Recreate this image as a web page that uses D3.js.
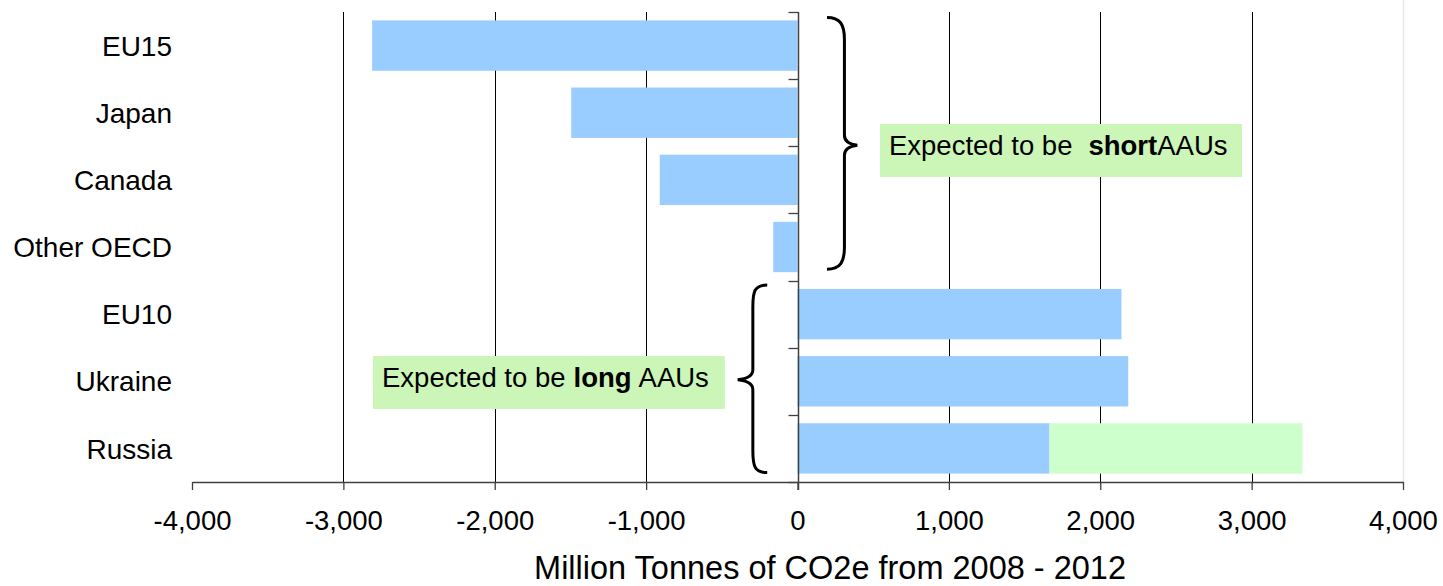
<!DOCTYPE html>
<html>
<head>
<meta charset="utf-8">
<script src="https://cdn.jsdelivr.net/npm/d3@7"></script>
<style>
  html, body { margin: 0; padding: 0; background: #fff; }
  svg { display: block; font-family: "Liberation Sans", Arial, sans-serif; }
</style>
</head>
<body>
<svg id="chart" width="1443" height="586"></svg>
<script>
// ---- data ----
const categories = ["EU15", "Japan", "Canada", "Other OECD", "EU10", "Ukraine", "Russia"];
const baseValues = [-2810, -1495, -910, -160, 2140, 2185, 1665];
const extraValues = [0, 0, 0, 0, 0, 0, 1670];
const tickValues = [-4000, -3000, -2000, -1000, 0, 1000, 2000, 3000, 4000];
const xDomain = [-4000, 4000];
const axisTitle = "Million Tonnes of CO2e from 2008 - 2012";
const shortLabel = ["Expected to be", "short", "AAUs"];
const longLabel = ["Expected to be", "long", "AAUs"];

// ---- layout ----
const svg = d3.select("#chart");
const plot = { left: 192, right: 1403, top: 12, bottom: 482 };
const blue = "#99CCFF", green = "#CCFFCC", boxGreen = "#CCF5B8";

const x = d3.scaleLinear().domain(xDomain).range([plot.left, plot.right]);
const y = d3.scaleBand().domain(categories).range([plot.top, plot.bottom])
  .paddingInner(0.25).paddingOuter(0.125);
const step = y.step();
const fmtBase = d3.format(",");
const fmt = v => fmtBase(v).replace("\u2212", "-");

// faint right border
svg.append("line")
  .attr("x1", plot.right + 0.5).attr("x2", plot.right + 0.5)
  .attr("y1", plot.top - 12).attr("y2", plot.bottom)
  .attr("stroke", "#e6e6e6").attr("stroke-width", 1.5);

// gridlines
svg.append("g").selectAll("line")
  .data(tickValues.filter(v => v !== 0 && v !== xDomain[0] && v !== xDomain[1]))
  .join("line")
  .attr("x1", d => Math.round(x(d)) + 0.5).attr("x2", d => Math.round(x(d)) + 0.5)
  .attr("y1", plot.top).attr("y2", plot.bottom)
  .attr("stroke", "#000").attr("stroke-width", 1);

// bars
const rows = categories.map((c, i) => ({ c, base: baseValues[i], extra: extraValues[i] }));
svg.append("g").selectAll("rect")
  .data(rows).join("rect")
  .attr("x", d => x(Math.min(0, d.base)))
  .attr("width", d => Math.abs(x(d.base) - x(0)))
  .attr("y", d => y(d.c))
  .attr("height", y.bandwidth())
  .attr("fill", blue);
svg.append("g").selectAll("rect")
  .data(rows.filter(d => d.extra > 0)).join("rect")
  .attr("x", d => x(d.base))
  .attr("width", d => x(d.base + d.extra) - x(d.base))
  .attr("y", d => y(d.c))
  .attr("height", y.bandwidth())
  .attr("fill", green);

// x axis
const xAxis = svg.append("g").attr("transform", `translate(0,${plot.bottom})`)
  .call(d3.axisBottom(x).tickValues(tickValues).tickFormat(fmt).tickSize(8).tickSizeOuter(0));
xAxis.select(".domain").attr("stroke", "#404040").attr("stroke-width", 1.3);
xAxis.selectAll(".tick line").attr("stroke", "#404040").attr("stroke-width", 1.3);
xAxis.selectAll(".tick text")
  .attr("font-size", 27.5).attr("fill", "#000").attr("y", 28)
  .attr("dy", "0.71em").attr("font-family", "'Liberation Sans', Arial, sans-serif");

// y axis at zero
const x0 = Math.round(x(0)) + 0.5;
svg.append("line")
  .attr("x1", x0).attr("x2", x0)
  .attr("y1", plot.top).attr("y2", plot.bottom + 8)
  .attr("stroke", "#404040").attr("stroke-width", 1.5);
const bounds = d3.range(categories.length + 1).map(i => plot.top + i * step);
svg.append("g").selectAll("line")
  .data(bounds).join("line")
  .attr("x1", x0 - 10).attr("x2", x0)
  .attr("y1", d => Math.round(d) + 0.5).attr("y2", d => Math.round(d) + 0.5)
  .attr("stroke", "#404040").attr("stroke-width", 1.3);

// category labels
svg.append("g").selectAll("text")
  .data(categories).join("text")
  .attr("x", plot.left - 20)
  .attr("y", d => y(d) + y.bandwidth() / 2)
  .attr("dy", "0.36em")
  .attr("text-anchor", "end")
  .attr("font-size", 28)
  .attr("fill", "#000")
  .text(d => d);

// axis title
svg.append("text")
  .attr("x", x(215)).attr("y", 579)
  .attr("text-anchor", "middle")
  .attr("font-size", 32.5)
  .attr("fill", "#000")
  .text(axisTitle);

// braces
function brace(xHook, xSpine, xTip, yTop, yBot, yTip) {
  const s = Math.sign(xTip - xSpine);
  return `M${xHook},${yTop}
    C${xHook + s * 13},${yTop} ${xSpine},${yTop + 7} ${xSpine},${yTop + 22}
    L${xSpine},${yTip - 10}
    C${xSpine},${yTip - 4} ${xSpine + s * 5},${yTip - 1} ${xTip},${yTip}
    C${xSpine + s * 5},${yTip + 1} ${xSpine},${yTip + 4} ${xSpine},${yTip + 10}
    L${xSpine},${yBot - 22}
    C${xSpine},${yBot - 7} ${xHook + s * 13},${yBot} ${xHook},${yBot}`;
}
const topShort = y(categories[0]) - 3, botShort = y(categories[3]) + y.bandwidth() - 3;
svg.append("path")
  .attr("d", brace(x(195), x(310), x(395), topShort, botShort, (topShort + botShort) / 2 + 2))
  .attr("fill", "none").attr("stroke", "#000").attr("stroke-width", 3);
const topLong = y(categories[4]) - 4, botLong = y(categories[6]) + y.bandwidth() - 1;
svg.append("path")
  .attr("d", brace(x(-200), x(-295), x(-395), topLong, botLong, (topLong + botLong) / 2 + 1))
  .attr("fill", "none").attr("stroke", "#000").attr("stroke-width", 3);

// annotation boxes
function note(x1, x2, yTop, h, parts, gaps) {
  const g = svg.append("g");
  g.append("rect").attr("x", x(x1)).attr("y", yTop)
    .attr("width", x(x2) - x(x1)).attr("height", h).attr("fill", boxGreen);
  const t = g.append("text").attr("x", x(x1) + 9).attr("y", yTop + 31)
    .attr("font-size", 27.5).attr("fill", "#000");
  t.append("tspan").text(parts[0]);
  t.append("tspan").attr("dx", gaps[0]).attr("font-weight", "bold").text(parts[1]);
  t.append("tspan").attr("dx", gaps[1]).text(parts[2]);
}
note(545, 2936, 124, 53, shortLabel, [16, 0]);
note(-2804, -480, 356, 53, longLabel, [8, 7]);
</script>
</body>
</html>
